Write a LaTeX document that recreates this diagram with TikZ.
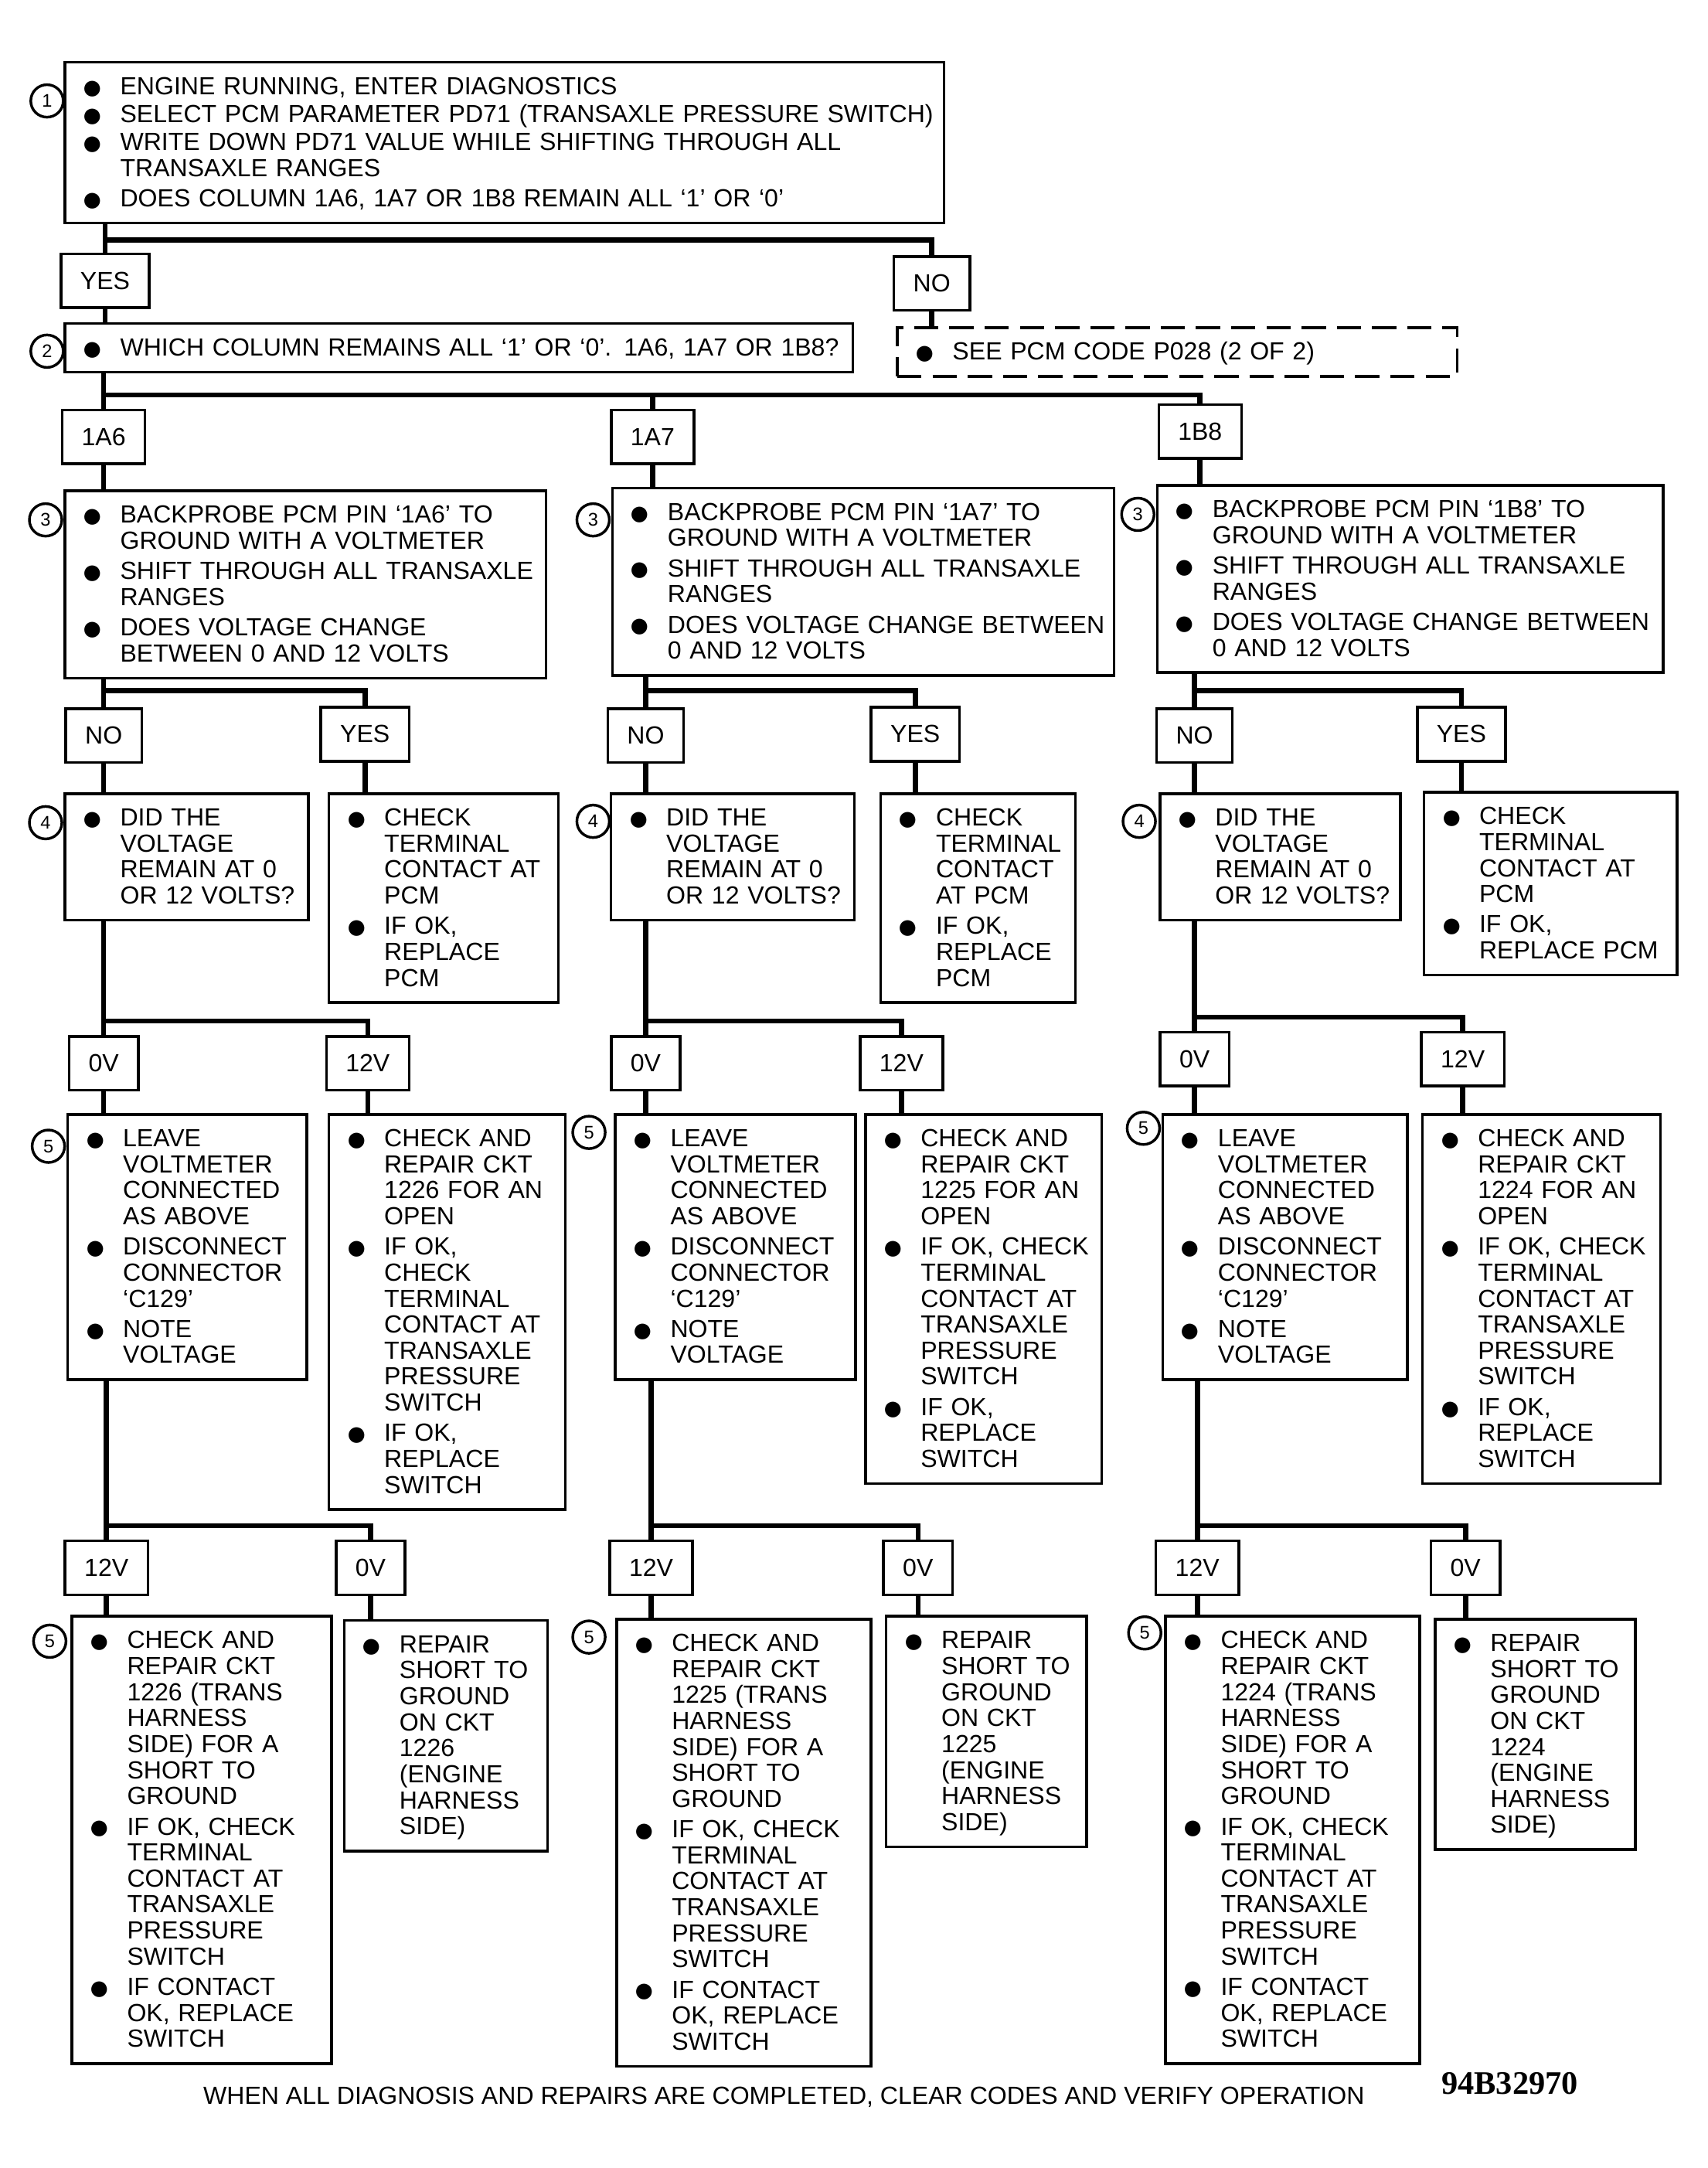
\documentclass[tikz,border=0pt]{standalone}
\usepackage{fontspec}
\setmainfont{Liberation Sans}
\newfontfamily\codefont{Liberation Serif}
\usetikzlibrary{calc}
\newcommand{\boxfont}{\fontsize{10.2}{10.7}\selectfont}
\newcommand{\itm}[1]{\makebox[0.56cm][l]{\raisebox{-1.85pt}{\fontsize{15}{15}\selectfont ●}}\begin{tabular}[t]{@{}l@{}}#1\end{tabular}}

\begin{document}
\begin{tikzpicture}[x=0.02cm,y=-0.02cm,
  stepbox/.style={draw,line width=1.1pt,anchor=north west,align=left,inner xsep=0.24cm,inner ysep=3.5pt,font=\boxfont,execute at begin node={\rule{0pt}{9.8pt}}},
  answer/.style={draw,line width=1.1pt,inner xsep=0.28cm,inner ysep=0pt,minimum height=0.78cm,font=\boxfont},
  stepno/.style={draw,circle,line width=1.1pt,fill=white,minimum size=0.47cm,inner sep=0pt,font=\fontsize{7.5}{8}\selectfont},
  conn/.style={line width=2.1pt}]
\useasboundingbox (0,0) rectangle (1235,1568);

% step 1 and 2
\node[stepbox,text width=12.24cm] (s1) at (46,44) {\itm{ENGINE RUNNING, ENTER DIAGNOSTICS}\\[0.8pt]
\itm{SELECT PCM PARAMETER PD71 (TRANSAXLE PRESSURE SWITCH)}\\[0.8pt]
\itm{WRITE DOWN PD71 VALUE WHILE SHIFTING THROUGH ALL\\TRANSAXLE RANGES}\\[0.8pt]
\itm{DOES COLUMN 1A6, 1A7 OR 1B8 REMAIN ALL ‘1’ OR ‘0’}};
\node[answer] (yes1) at (76,203) {YES};
\node[answer] (no1) at (674,205) {NO};
\node[stepbox,text width=10.92cm] (s2) at (46,233) {\itm{WHICH COLUMN REMAINS ALL ‘1’ OR ‘0’. 1A6, 1A7 OR 1B8?}};
\node[stepbox,dash pattern=on 10pt off 4.5pt,text width=7.62cm] (see) at (648,236) {\itm{SEE PCM CODE P028 (2 OF 2)}};
\draw[conn] (s1.south -| yes1.north) -- (yes1.north);
\draw[conn] (yes1.north) ++(0,-9) -| (no1.north);
\draw[conn] (yes1.south) -- (yes1.south |- s2.north);
\draw[conn] (no1.south) -- (no1.south |- see.north);

% pins
\node[answer] (pa) at (75,316) {1A6};
\node[answer] (pb) at (472,316) {1A7};
\node[answer] (pc) at (868,312) {1B8};
\draw[conn] (s2.south -| pa.north) -- (pa.north);
\draw[conn] (pa.north) ++(0,-10) coordinate (hp) -| (pc.north);
\draw[conn] (hp -| pb.north) -- (pb.north);

% step 3
\node[stepbox,text width=6.48cm] (s3a) at (46,354) {\itm{BACKPROBE PCM PIN ‘1A6’ TO\\GROUND WITH A VOLTMETER}\\[0.8pt]
\itm{SHIFT THROUGH ALL TRANSAXLE\\RANGES}\\[0.8pt]
\itm{DOES VOLTAGE CHANGE\\BETWEEN 0 AND 12 VOLTS}};
\node[stepbox,text width=6.78cm] (s3b) at (442,352) {\itm{BACKPROBE PCM PIN ‘1A7’ TO\\GROUND WITH A VOLTMETER}\\[0.8pt]
\itm{SHIFT THROUGH ALL TRANSAXLE\\RANGES}\\[0.8pt]
\itm{DOES VOLTAGE CHANGE BETWEEN\\0 AND 12 VOLTS}};
\node[stepbox,text width=6.84cm] (s3c) at (836,350) {\itm{BACKPROBE PCM PIN ‘1B8’ TO\\GROUND WITH A VOLTMETER}\\[0.8pt]
\itm{SHIFT THROUGH ALL TRANSAXLE\\RANGES}\\[0.8pt]
\itm{DOES VOLTAGE CHANGE BETWEEN\\0 AND 12 VOLTS}};

% step 4
\foreach \c/\xn/\xy in {a/75/264,b/467/662,c/864/1057}{
\node[answer] (no\c) at (\xn,532) {NO};
\node[answer] (yes\c) at (\xy,531) {YES};}
\foreach \c/\x/\w in {a/46/3.04cm,b/441/3.04cm,c/838/3.0cm}
\node[stepbox,text width=\w] (s4\c) at (\x,573) {\itm{DID THE\\VOLTAGE\\REMAIN AT 0\\OR 12 VOLTS?}};
\node[stepbox,text width=2.84cm] (t4a) at (237,573) {\itm{CHECK\\TERMINAL\\CONTACT AT\\PCM}\\[0.8pt]
\itm{IF OK,\\REPLACE\\PCM}};
\node[stepbox,text width=2.34cm] (t4b) at (636,573) {\itm{CHECK\\TERMINAL\\CONTACT\\AT PCM}\\[0.8pt]
\itm{IF OK,\\REPLACE\\PCM}};
\node[stepbox,text width=3.18cm] (t4c) at (1029,572) {\itm{CHECK\\TERMINAL\\CONTACT AT\\PCM}\\[0.8pt]
\itm{IF OK,\\REPLACE PCM}};

% step 5
\foreach \c/\xa/\xb/\y in {a/75/266/769,b/467/652/769,c/864/1058/766}{
\node[answer] (v0\c) at (\xa,\y) {0V};
\node[answer] (v12\c) at (\xb,\y) {12V};}
\foreach \c/\x/\w in {a/48/2.98cm,b/444/3.0cm,c/840/3.06cm}
\node[stepbox,text width=\w] (s5\c) at (\x,805) {\itm{LEAVE\\VOLTMETER\\CONNECTED\\AS ABOVE}\\[0.8pt]
\itm{DISCONNECT\\CONNECTOR\\‘C129’}\\[0.8pt]
\itm{NOTE\\VOLTAGE}};
\node[stepbox,text width=2.94cm] (t5a) at (237,805) {\itm{CHECK AND\\REPAIR CKT\\1226 FOR AN\\OPEN}\\[0.8pt]
\itm{IF OK,\\CHECK\\TERMINAL\\CONTACT AT\\TRANSAXLE\\PRESSURE\\SWITCH}\\[0.8pt]
\itm{IF OK,\\REPLACE\\SWITCH}};
\node[stepbox,text width=2.94cm] (t5b) at (625,805) {\itm{CHECK AND\\REPAIR CKT\\1225 FOR AN\\OPEN}\\[0.8pt]
\itm{IF OK, CHECK\\TERMINAL\\CONTACT AT\\TRANSAXLE\\PRESSURE\\SWITCH}\\[0.8pt]
\itm{IF OK,\\REPLACE\\SWITCH}};
\node[stepbox,text width=2.96cm] (t5c) at (1028,805) {\itm{CHECK AND\\REPAIR CKT\\1224 FOR AN\\OPEN}\\[0.8pt]
\itm{IF OK, CHECK\\TERMINAL\\CONTACT AT\\TRANSAXLE\\PRESSURE\\SWITCH}\\[0.8pt]
\itm{IF OK,\\REPLACE\\SWITCH}};

% last step
\foreach \c/\xa/\xb in {a/77/268,b/471/664,c/866/1060}{
\node[answer] (w12\c) at (\xa,1134) {12V};
\node[answer] (w0\c) at (\xb,1134) {0V};}
\foreach \c/\x/\y/\w/\k in {a/51/1168/3.28cm/1226,b/445/1170/3.2cm/1225,c/842/1168/3.2cm/1224}
\node[stepbox,text width=\w] (s6\c) at (\x,\y) {\itm{CHECK AND\\REPAIR CKT\\\k{} (TRANS\\HARNESS\\SIDE) FOR A\\SHORT TO\\GROUND}\\[0.8pt]
\itm{IF OK, CHECK\\TERMINAL\\CONTACT AT\\TRANSAXLE\\PRESSURE\\SWITCH}\\[0.8pt]
\itm{IF CONTACT\\OK, REPLACE\\SWITCH}};
\foreach \c/\x/\y/\w/\k in {a/248/1171/2.46cm/1226,b/640/1168/2.42cm/1225,c/1037/1170/2.42cm/1224}
\node[stepbox,text width=\w] (t6\c) at (\x,\y) {\itm{REPAIR\\SHORT TO\\GROUND\\ON CKT\\\k\\(ENGINE\\HARNESS\\SIDE)}};

% connectors per column
\foreach \c in {a,b,c}{
\draw[conn] (p\c.south) -- (p\c.south |- s3\c.north);
\draw[conn] (s3\c.south -| no\c.north) -- (no\c.north);
\draw[conn] (no\c.north) ++(0,-12) -| (yes\c.north);
\draw[conn] (no\c.south) -- (no\c.south |- s4\c.north);
\draw[conn] (yes\c.south) -- (yes\c.south |- t4\c.north);
\draw[conn] (s4\c.south -| v0\c.north) -- (v0\c.north);
\draw[conn] (v0\c.north) ++(0,-10) -| (v12\c.north);
\draw[conn] (v0\c.south) -- (v0\c.south |- s5\c.north);
\draw[conn] (v12\c.south) -- (v12\c.south |- t5\c.north);
\draw[conn] (s5\c.south -| w12\c.north) -- (w12\c.north);
\draw[conn] (w12\c.north) ++(0,-10) -| (w0\c.north);
\draw[conn] (w12\c.south) -- (w12\c.south |- s6\c.north);
\draw[conn] (w0\c.south) -- (w0\c.south |- t6\c.north);}

% step numbers
\foreach \b/\k/\dx/\dy in {s1/1/-12/29,s2/2/-12/21,s3a/3/-13/22,s3b/3/-13/24,s3c/3/-13/22,s4a/4/-13/22,s4b/4/-12/21,s4c/4/-14/21,s5a/5/-13/24,s5b/5/-18/14,s5c/5/-13/11,s6a/5/-15/19,s6b/5/-19/14,s6c/5/-14/13}
\node[stepno] (m\b) at ($(\b.north west)+(\dx,\dy)$) {\k};

\node[font=\fontsize{10.2}{11}\selectfont] (note) at (567,1517) {WHEN ALL DIAGNOSIS AND REPAIRS ARE COMPLETED, CLEAR CODES AND VERIFY OPERATION};
\node[font=\codefont\bfseries\fontsize{13.5}{14}\selectfont] (code) at (1092,1507) {94B32970};
\end{tikzpicture}
\end{document}
